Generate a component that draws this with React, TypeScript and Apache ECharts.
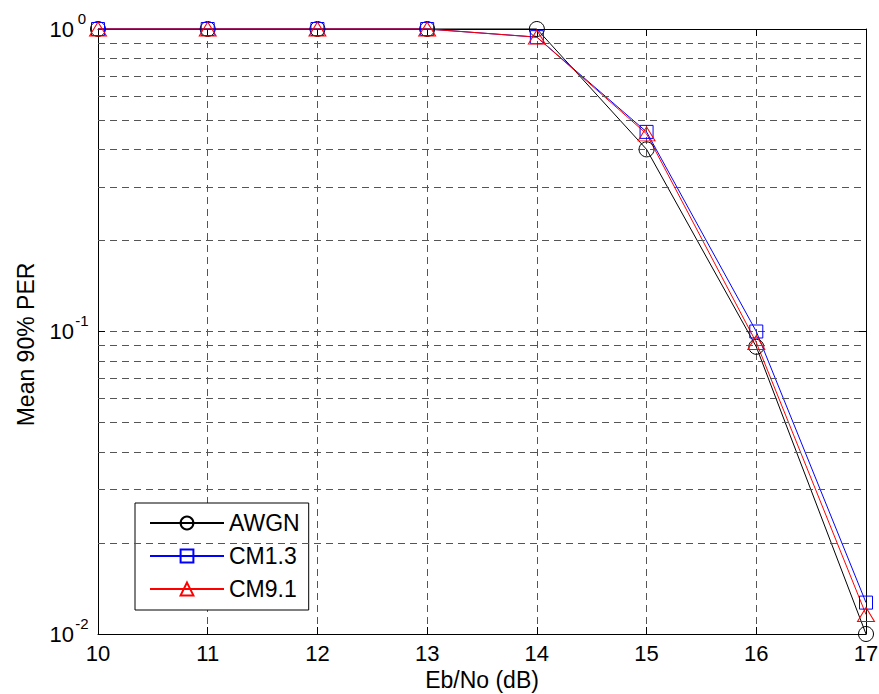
import React, { useEffect, useRef } from "react";
import * as echarts from "echarts";

const ebNo = [10, 11, 12, 13, 14, 15, 16, 17];
const awgn = [1, 1, 1, 1, 1, 0.4, 0.089, 0.01];
const cm13 = [1, 1, 1, 1, 0.94, 0.457, 0.1, 0.0127];
const cm91 = [1, 1, 1, 1, 0.94, 0.45, 0.092, 0.0116];
const minorGrid = [0.02, 0.03, 0.04, 0.05, 0.06, 0.07, 0.08, 0.09, 0.2, 0.3, 0.4, 0.5, 0.6, 0.7, 0.8, 0.9];
const seriesNames = ["AWGN", "CM1.3", "CM9.1"];

const FONT = "'Liberation Sans', Arial, sans-serif";
const gridLine = { color: "#555", width: 1, type: [7, 5] as any };

export default function App() {
  const ref = useRef<HTMLDivElement>(null);
  useEffect(() => {
    if (!ref.current) return;
    const chart = echarts.init(ref.current, null, { renderer: "svg" });
    const pairs = (ys: number[]) => ebNo.map((x, i) => [x, ys[i]]);
    chart.setOption({
      animation: false,
      backgroundColor: "#fff",
      textStyle: { fontFamily: FONT },
      grid: { left: 98, right: 13, top: 29, bottom: 60, containLabel: false, outerBoundsMode: "none" },
      legend: {
        data: seriesNames,
        orient: "vertical",
        left: 135,
        top: 503,
        backgroundColor: "#fff",
        borderColor: "#000",
        borderWidth: 1,
        padding: [8, 9, 9, 14],
        itemWidth: 74,
        itemHeight: 16,
        itemGap: 9,
        textStyle: { fontSize: 23, lineHeight: 24, color: "#000", fontFamily: FONT },
        selectedMode: false,
      },
      xAxis: [
        {
          type: "value",
          min: 10,
          max: 17,
          interval: 1,
          name: "Eb/No (dB)",
          nameLocation: "middle",
          nameGap: 33,
          nameTextStyle: { fontSize: 23, color: "#000", fontFamily: FONT },
          axisLine: { lineStyle: { color: "#000", width: 1 } },
          axisTick: { inside: true, length: 7, lineStyle: { color: "#000" } },
          axisLabel: { fontSize: 22, color: "#000", margin: 8, fontFamily: FONT },
          splitLine: { show: true, lineStyle: gridLine },
        },
        {
          type: "value",
          position: "top",
          min: 10,
          max: 17,
          interval: 1,
          axisLine: { show: true, lineStyle: { color: "#000", width: 1 } },
          axisTick: { inside: true, length: 7, lineStyle: { color: "#000" } },
          axisLabel: { show: false },
          splitLine: { show: false },
        },
      ],
      yAxis: [
        {
          type: "log",
          logBase: 10,
          min: 0.01,
          max: 1,
          name: "Mean 90% PER",
          nameLocation: "middle",
          nameGap: 61,
          nameRotate: 90,
          nameTextStyle: { fontSize: 23, color: "#000", fontFamily: FONT, padding: [0, 26, 0, 0] },
          axisLine: { show: true, lineStyle: { color: "#000", width: 1 } },
          axisTick: { show: true, inside: true, length: 7, lineStyle: { color: "#000" } },
          axisLabel: {
            margin: 8,
            fontFamily: FONT,
            color: "#000",
            formatter: (v: number) => {
              const e = Math.round(Math.log10(v));
              return `{b|10}{s|${e}}`;
            },
            rich: {
              b: { fontSize: 22, lineHeight: 22, color: "#000", fontFamily: FONT },
              s: { fontSize: 15, lineHeight: 15, color: "#000", fontFamily: FONT, width: 16, align: "left", padding: [0, 0, 22, 0] },
            },
          },
          splitLine: { show: true, lineStyle: gridLine },
        },
        {
          type: "log",
          logBase: 10,
          min: 0.01,
          max: 1,
          position: "right",
          axisLine: { show: true, lineStyle: { color: "#000", width: 1 } },
          axisTick: { show: true, inside: true, length: 7, lineStyle: { color: "#000" } },
          axisLabel: { show: false },
          splitLine: { show: false },
        },
      ],
      series: [
        {
          name: "minor-grid",
          type: "line",
          data: [],
          silent: true,
          markLine: {
            silent: true,
            symbol: "none",
            label: { show: false },
            lineStyle: gridLine,
            data: minorGrid.map((v) => ({ yAxis: v })),
          },
        },
        {
          name: "AWGN",
          type: "line",
          data: pairs(awgn),
          clip: false,
          symbol: "circle",
          symbolSize: 15,
          lineStyle: { color: "#000", width: 1 },
          itemStyle: { color: "rgba(0,0,0,0)", borderColor: "#000", borderWidth: 1 },
        },
        {
          name: "CM1.3",
          type: "line",
          data: pairs(cm13),
          clip: false,
          symbol: "rect",
          symbolSize: 13,
          lineStyle: { color: "#0000ff", width: 1 },
          itemStyle: { color: "rgba(0,0,0,0)", borderColor: "#0000ff", borderWidth: 1 },
        },
        {
          name: "CM9.1",
          type: "line",
          data: pairs(cm91),
          clip: false,
          symbol: "triangle",
          symbolSize: [17, 14],
          lineStyle: { color: "#ff0000", width: 1 },
          itemStyle: { color: "rgba(0,0,0,0)", borderColor: "#ff0000", borderWidth: 1 },
        },
      ],
    });
    return () => chart.dispose();
  }, []);
  return <div ref={ref} style={{ width: 879, height: 694, position: "absolute", left: 0, top: 0 }} />;
}
